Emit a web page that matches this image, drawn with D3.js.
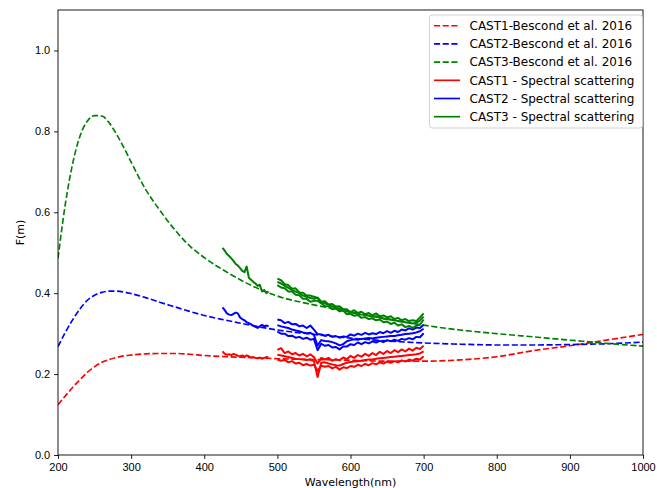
<!DOCTYPE html>
<html>
<head>
<meta charset="utf-8">
<script src="https://cdn.jsdelivr.net/npm/d3@7"></script>
<style>
  body { margin: 0; background: #fff; }
  svg { font-family: "DejaVu Sans", sans-serif; }
  .axis text { font-size: 11px; fill: #000; }
  .axis line { stroke: #000; stroke-width: 0.9; }
  .axis-title { font-size: 11px; fill: #000; }
  .legend text { font-size: 12px; fill: #000; }
</style>
</head>
<body>
<svg id="chart"></svg>
<script>
// Bescond et al. 2016 model curves
const modelWl = [200, 210, 220, 230, 240, 250, 260, 270, 280, 290, 300, 320, 340, 360, 380, 400, 430, 460,
  500, 550, 600, 650, 700, 750, 800, 850, 900, 950, 1000];
const cast1Model = [0.124, 0.146, 0.167, 0.186, 0.204, 0.218, 0.229, 0.236, 0.241, 0.245, 0.247, 0.250, 0.251,
  0.251, 0.249, 0.246, 0.243, 0.241, 0.238, 0.236, 0.234, 0.232, 0.232, 0.235, 0.243, 0.258, 0.270, 0.284, 0.298];
const cast2Model = [0.268, 0.303, 0.334, 0.361, 0.382, 0.395, 0.402, 0.405, 0.405, 0.403, 0.399, 0.389, 0.377,
  0.366, 0.355, 0.345, 0.333, 0.322, 0.309, 0.298, 0.289, 0.282, 0.277, 0.274, 0.272, 0.272, 0.273, 0.275, 0.279];
const cast3Model = [0.486, 0.620, 0.720, 0.788, 0.825, 0.839, 0.838, 0.821, 0.793, 0.760, 0.724, 0.656, 0.603,
  0.556, 0.517, 0.488, 0.453, 0.423, 0.393, 0.371, 0.354, 0.336, 0.321, 0.309, 0.300, 0.292, 0.284, 0.276, 0.269];

// spectral scattering, first sensor (425-488 nm)
const wlShort = [425, 428, 431, 434, 437, 440, 443, 446, 449, 452, 455, 458, 461, 464, 467, 470, 473, 476, 479, 482, 485, 488];
const cast1Short = [0.256, 0.250, 0.248, 0.249, 0.247, 0.250, 0.248, 0.245, 0.244, 0.246, 0.243, 0.246, 0.244,
  0.241, 0.242, 0.240, 0.239, 0.241, 0.238, 0.240, 0.242, 0.241];
const cast2Short = [0.365, 0.358, 0.350, 0.347, 0.346, 0.349, 0.352, 0.350, 0.340, 0.336, 0.333, 0.328, 0.326,
  0.323, 0.320, 0.317, 0.314, 0.318, 0.322, 0.318, 0.320, 0.318];
const cast3Short = [0.512, 0.505, 0.497, 0.492, 0.486, 0.480, 0.472, 0.468, 0.462, 0.455, 0.452, 0.466, 0.438,
  0.433, 0.428, 0.424, 0.418, 0.421, 0.404, 0.408, 0.400, 0.405];

// spectral scattering, second sensor (500-700 nm), three profiles per cast
const wlLong = [500, 505, 510, 515, 520, 525, 530, 535, 540, 545, 550, 555, 560, 565, 570, 575, 580, 585, 590, 595,
  600, 605, 610, 615, 620, 625, 630, 635, 640, 645, 650, 655, 660, 665, 670, 675, 680, 685, 690, 695, 700];
const cast1LongA = [0.260, 0.264, 0.252, 0.256, 0.249, 0.252, 0.246, 0.250, 0.244, 0.249, 0.242, 0.226, 0.240, 0.236,
  0.240, 0.233, 0.237, 0.234, 0.241, 0.237, 0.245, 0.240, 0.247, 0.243, 0.250, 0.245, 0.252, 0.247, 0.255, 0.250,
  0.257, 0.252, 0.259, 0.254, 0.261, 0.256, 0.263, 0.258, 0.265, 0.262, 0.270];
const cast1LongB = [0.248, 0.246, 0.244, 0.242, 0.240, 0.238, 0.237, 0.236, 0.235, 0.236, 0.232, 0.193, 0.228, 0.229,
  0.226, 0.224, 0.222, 0.221, 0.225, 0.228, 0.230, 0.231, 0.232, 0.233, 0.235, 0.236, 0.236, 0.238, 0.239, 0.240,
  0.241, 0.242, 0.243, 0.244, 0.245, 0.246, 0.247, 0.248, 0.249, 0.251, 0.256];
const cast1LongC = [0.236, 0.233, 0.235, 0.229, 0.232, 0.226, 0.228, 0.222, 0.225, 0.221, 0.223, 0.208, 0.221, 0.218,
  0.220, 0.214, 0.218, 0.211, 0.217, 0.215, 0.220, 0.218, 0.223, 0.220, 0.225, 0.222, 0.227, 0.224, 0.229, 0.226,
  0.231, 0.228, 0.232, 0.229, 0.234, 0.231, 0.236, 0.233, 0.238, 0.236, 0.244];
const cast2LongA = [0.335, 0.333, 0.326, 0.329, 0.323, 0.324, 0.318, 0.320, 0.314, 0.320, 0.310, 0.299, 0.298, 0.295,
  0.297, 0.292, 0.294, 0.290, 0.293, 0.292, 0.298, 0.295, 0.300, 0.297, 0.302, 0.298, 0.301, 0.299, 0.304, 0.301,
  0.306, 0.302, 0.307, 0.304, 0.310, 0.308, 0.313, 0.310, 0.315, 0.314, 0.322];
const cast2LongB = [0.321, 0.318, 0.316, 0.314, 0.310, 0.308, 0.306, 0.303, 0.301, 0.302, 0.297, 0.270, 0.284, 0.282,
  0.281, 0.279, 0.276, 0.271, 0.274, 0.281, 0.284, 0.286, 0.285, 0.287, 0.288, 0.289, 0.288, 0.290, 0.291, 0.292,
  0.293, 0.294, 0.294, 0.296, 0.297, 0.299, 0.300, 0.301, 0.303, 0.306, 0.312];
const cast2LongC = [0.305, 0.300, 0.300, 0.294, 0.295, 0.290, 0.292, 0.287, 0.290, 0.285, 0.287, 0.259, 0.275, 0.270,
  0.272, 0.266, 0.267, 0.261, 0.268, 0.268, 0.274, 0.272, 0.278, 0.274, 0.279, 0.276, 0.281, 0.278, 0.282, 0.279,
  0.284, 0.281, 0.285, 0.282, 0.287, 0.285, 0.289, 0.286, 0.292, 0.291, 0.301];
const cast3LongA = [0.436, 0.432, 0.422, 0.420, 0.411, 0.412, 0.402, 0.401, 0.394, 0.394, 0.391, 0.388, 0.379, 0.380,
  0.372, 0.373, 0.367, 0.368, 0.360, 0.360, 0.353, 0.358, 0.351, 0.354, 0.348, 0.351, 0.345, 0.350, 0.343, 0.345,
  0.340, 0.343, 0.336, 0.339, 0.333, 0.336, 0.331, 0.333, 0.331, 0.340, 0.350];
const cast3LongB = [0.428, 0.424, 0.418, 0.413, 0.408, 0.404, 0.400, 0.394, 0.391, 0.388, 0.386, 0.389, 0.378, 0.375,
  0.371, 0.367, 0.365, 0.362, 0.360, 0.355, 0.352, 0.351, 0.349, 0.347, 0.346, 0.344, 0.342, 0.343, 0.340, 0.337,
  0.336, 0.335, 0.333, 0.331, 0.330, 0.328, 0.327, 0.325, 0.327, 0.332, 0.342];
const cast3LongC = [0.420, 0.414, 0.412, 0.404, 0.404, 0.396, 0.395, 0.386, 0.386, 0.379, 0.381, 0.381, 0.375, 0.368,
  0.368, 0.360, 0.362, 0.355, 0.357, 0.348, 0.349, 0.344, 0.346, 0.339, 0.341, 0.336, 0.338, 0.333, 0.335, 0.328,
  0.330, 0.324, 0.327, 0.320, 0.323, 0.316, 0.319, 0.314, 0.320, 0.322, 0.335];

const xTicks = [200, 300, 400, 500, 600, 700, 800, 900, 1000];
const yTicks = [0.0, 0.2, 0.4, 0.6, 0.8, 1.0];
const legendLabels = ['CAST1-Bescond et al. 2016', 'CAST2-Bescond et al. 2016', 'CAST3-Bescond et al. 2016',
  'CAST1 - Spectral scattering', 'CAST2 - Spectral scattering', 'CAST3 - Spectral scattering'];
const castColors = ['#ff0000', '#0000ff', '#008000'];

const W = 657, H = 488;
const margin = {top: 10, right: 14, bottom: 33, left: 58};
const width = W - margin.left - margin.right;
const height = H - margin.top - margin.bottom;

const svg = d3.select('#chart').attr('width', W).attr('height', H);
const chart = svg.append('g').attr('transform', `translate(${margin.left},${margin.top})`);

const xScale = d3.scaleLinear().domain([200, 1000]).range([0, width]);
const yScale = d3.scaleLinear().domain([0, 1.1]).range([height, 0]);

const pair = (wl, vals) => wl.map((w, i) => [w, vals[i]]);
const line = d3.line().x(d => xScale(d[0])).y(d => yScale(d[1]));
const smoothLine = d3.line().x(d => xScale(d[0])).y(d => yScale(d[1])).curve(d3.curveMonotoneX);

chart.append('clipPath').attr('id', 'clip')
  .append('rect').attr('width', width).attr('height', height);
const plot = chart.append('g').attr('clip-path', 'url(#clip)');

// dashed model curves
[cast1Model, cast2Model, cast3Model].forEach((vals, i) => {
  plot.append('path')
    .attr('d', smoothLine(pair(modelWl, vals)))
    .attr('fill', 'none')
    .attr('stroke', castColors[i])
    .attr('stroke-width', 1.65)
    .attr('stroke-dasharray', '6.1,2.6');
});

// measured spectra
const measured = [
  [cast1Short, cast1LongA, cast1LongB, cast1LongC],
  [cast2Short, cast2LongA, cast2LongB, cast2LongC],
  [cast3Short, cast3LongA, cast3LongB, cast3LongC]
];
measured.forEach((set, i) => {
  set.forEach((vals, j) => {
    plot.append('path')
      .attr('d', line(pair(j === 0 ? wlShort : wlLong, vals)))
      .attr('fill', 'none')
      .attr('stroke', castColors[i])
      .attr('stroke-width', 2)
      .attr('stroke-linejoin', 'round');
  });
});

// axes
const xAxis = d3.axisBottom(xScale).tickValues(xTicks).tickSize(3.9).tickPadding(3.9).tickFormat(d3.format('d'));
const yAxis = d3.axisLeft(yScale).tickValues(yTicks).tickSize(3.9).tickPadding(3.9).tickFormat(d3.format('.1f'));

chart.append('g').attr('class', 'axis')
    .attr('transform', `translate(0,${height})`)
    .call(xAxis)
    .call(g => g.select('.domain').remove());
chart.append('g').attr('class', 'axis')
    .call(yAxis)
    .call(g => g.select('.domain').remove());

chart.append('rect')
  .attr('width', width).attr('height', height)
  .attr('fill', 'none').attr('stroke', '#000').attr('stroke-width', 0.9);

svg.append('text')
  .attr('class', 'axis-title')
  .attr('x', margin.left + width / 2)
  .attr('y', 486)
  .attr('text-anchor', 'middle')
  .text('Wavelength(nm)');

svg.append('text')
  .attr('class', 'axis-title')
  .attr('transform', `translate(24,${margin.top + height / 2}) rotate(-90)`)
  .attr('text-anchor', 'middle')
  .text('F(m)');

// legend
const legend = svg.append('g').attr('class', 'legend').attr('transform', 'translate(429.5,15)');
legend.append('rect')
  .attr('width', 213).attr('height', 113).attr('rx', 2.5)
  .attr('fill', '#fff').attr('fill-opacity', 0.8)
  .attr('stroke', '#cccccc').attr('stroke-width', 0.9);

legendLabels.forEach((label, i) => {
  const y = 10.7 + i * 18.2;
  legend.append('line')
    .attr('x1', 4.5).attr('x2', 30.5).attr('y1', y).attr('y2', y)
    .attr('stroke', castColors[i % 3])
    .attr('stroke-width', 1.65)
    .attr('stroke-dasharray', i < 3 ? '6.1,2.6' : null);
  legend.append('text')
    .attr('x', 40).attr('y', y).attr('dy', '0.35em')
    .text(label);
});
</script>
</body>
</html>
